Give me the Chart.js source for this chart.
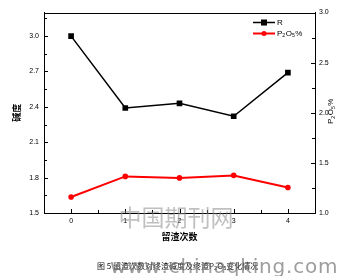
<!DOCTYPE html>
<html>
<head>
<meta charset="utf-8">
<script src="https://cdn.jsdelivr.net/npm/chart.js@4.4.1/dist/chart.umd.min.js"></script>
<style>
html, body { margin: 0; padding: 0; background: #fff; }
#wrap { width: 341px; height: 276px; }
</style>
</head>
<body>
<div id="wrap"><canvas id="myChart" width="341" height="276"></canvas></div>
<script>
// values
const cycles = [0, 1, 2, 3, 4];
const basicity = [3.0, 2.39, 2.43, 2.32, 2.69];
const p2o5 = [1.16, 1.365, 1.35, 1.375, 1.255];
const xTicks = [0, 1, 2, 3, 4];
const leftTicks = [1.5, 1.8, 2.1, 2.4, 2.7, 3.0];
const rightTicks = [1.0, 1.5, 2.0, 2.5, 3.0];

const FONT = '"Liberation Sans", Arial, sans-serif';
const CJK = '"Noto Sans CJK SC", sans-serif';

function toPoints(ys) {
    return cycles.map((c, i) => ({ x: c, y: ys[i] }));
}

// P2O5% with subscripts, starting at (x, y), left aligned, baseline middle
function drawP2O5(ctx, x, y, size) {
    const sub = size * 0.65;
    const parts = [['P', 0], ['2', 1], ['O', 0], ['5', 1], ['%', 0]];
    parts.forEach(p => {
        ctx.font = (p[1] ? sub : size) + 'px ' + FONT;
        ctx.fillText(p[0], x, y + (p[1] ? size * 0.3 : 0));
        x += ctx.measureText(p[0]).width + (p[1] ? 0.5 : 0);
    });
    return x;
}

// inward ticks, top border, legend, right title, caption, watermark
const decorPlugin = {
    id: 'decor',
    afterDraw(chart) {
        const ctx = chart.ctx;
        const a = chart.chartArea;
        const sx = chart.scales.x, sy = chart.scales.y, sy2 = chart.scales.y2;
        ctx.save();
        ctx.strokeStyle = '#000';
        ctx.lineWidth = 1;
        ctx.beginPath();
        ctx.moveTo(a.left, Math.round(a.top) + 0.5);
        ctx.lineTo(a.right, Math.round(a.top) + 0.5);
        // left axis
        for (let v = 1.5; v <= 3.2 + 1e-6; v += 0.15) {
            const y = Math.round(sy.getPixelForValue(v)) + 0.5;
            const major = leftTicks.some(t => Math.abs(t - v) < 1e-6);
            ctx.moveTo(a.left, y);
            ctx.lineTo(a.left + (major ? 4 : 3), y);
        }
        // right axis
        for (let v = 1.0; v <= 3.0 + 1e-6; v += 0.25) {
            const y = Math.round(sy2.getPixelForValue(v)) + 0.5;
            const major = rightTicks.some(t => Math.abs(t - v) < 1e-6);
            ctx.moveTo(a.right, y);
            ctx.lineTo(a.right - (major ? 4 : 3), y);
        }
        // bottom axis
        for (let v = -0.5; v <= 4.5 + 1e-6; v += 0.5) {
            const x = Math.round(sx.getPixelForValue(v)) + 0.5;
            const major = xTicks.some(t => Math.abs(t - v) < 1e-6);
            ctx.moveTo(x, a.bottom);
            ctx.lineTo(x, a.bottom - (major ? 4 : 3));
        }
        ctx.stroke();

        // legend
        const rows = [
            { ds: chart.data.datasets[0], y: 22.5 },
            { ds: chart.data.datasets[1], y: 33.5 }
        ];
        rows.forEach(r => {
            ctx.strokeStyle = r.ds.borderColor;
            ctx.lineWidth = r.ds.borderWidth;
            ctx.beginPath();
            ctx.moveTo(253, r.y);
            ctx.lineTo(275, r.y);
            ctx.stroke();
            ctx.fillStyle = r.ds.borderColor;
            if (r.ds.pointStyle === 'rect') {
                ctx.fillRect(261, r.y - 3, 6, 6);
            } else {
                ctx.beginPath();
                ctx.arc(264, r.y, 2.5, 0, Math.PI * 2);
                ctx.fill();
            }
        });
        ctx.fillStyle = '#000';
        ctx.textBaseline = 'middle';
        ctx.textAlign = 'left';
        ctx.font = '8px ' + FONT;
        ctx.fillText('R', 277, 22.5);
        drawP2O5(ctx, 277, 33.5, 8);

        // right axis title, reading bottom to top
        ctx.save();
        ctx.translate(331, 124);
        ctx.rotate(-Math.PI / 2);
        drawP2O5(ctx, 0, 0, 8);
        ctx.restore();

        // caption
        ctx.fillStyle = '#111';
        ctx.font = '8px ' + CJK;
        ctx.textAlign = 'left';
        ctx.fillText('图 5 留渣次数对终渣碱度及终渣P₂O₅变化情况', 97, 266);

        // watermark
        ctx.fillStyle = 'rgba(140,140,140,0.55)';
        ctx.textAlign = 'center';
        ctx.font = '23px ' + CJK;
        ctx.fillText('中国期刊网', 176, 217);
        ctx.textAlign = 'left';
        ctx.textBaseline = 'alphabetic';
        ctx.fillStyle = 'rgba(115,115,115,0.7)';
        ctx.font = '20px "DejaVu Sans", sans-serif';
        let wx = 110;
        for (const ch of 'www.chinaqking.com') {
            ctx.fillText(ch, wx, 273);
            wx += ctx.measureText(ch).width + 0.8;
        }
        ctx.restore();
    }
};

function renderChart() {
    const ctx = document.getElementById('myChart').getContext('2d');
    new Chart(ctx, {
        type: 'line',
        data: {
            datasets: [{
                label: 'R',
                data: toPoints(basicity),
                yAxisID: 'y',
                borderColor: '#000',
                backgroundColor: '#000',
                borderWidth: 1.5,
                pointStyle: 'rect',
                pointRadius: 4,
                pointBorderWidth: 0,
                fill: false
            }, {
                label: 'P2O5%',
                data: toPoints(p2o5),
                yAxisID: 'y2',
                borderColor: '#ff0000',
                backgroundColor: '#ff0000',
                borderWidth: 2,
                pointStyle: 'circle',
                pointRadius: 2.8,
                pointBorderWidth: 0,
                fill: false
            }]
        },
        options: {
            responsive: false,
            animation: false,
            devicePixelRatio: 1,
            layout: { padding: { left: 0, right: 0, top: 12.5, bottom: 0 } },
            plugins: {
                legend: { display: false },
                tooltip: { enabled: false }
            },
            scales: {
                x: {
                    type: 'linear',
                    position: 'bottom',
                    min: -0.5,
                    max: 4.5,
                    afterBuildTicks: s => { s.ticks = xTicks.map(v => ({ value: v })); },
                    afterFit: s => { s.height = 63; },
                    grid: { display: false, drawTicks: false },
                    border: { display: true, color: '#000', width: 1 },
                    ticks: { color: '#000', font: { size: 7, family: FONT }, padding: 4, callback: v => v },
                    title: {
                        display: true,
                        text: '留渣次数',
                        color: '#000',
                        font: { size: 9, weight: 'bold', family: CJK },
                        padding: { top: 34.5, bottom: 34.5 }
                    }
                },
                y: {
                    position: 'left',
                    min: 1.5,
                    max: 3.2,
                    afterBuildTicks: s => { s.ticks = leftTicks.map(v => ({ value: v })); },
                    afterFit: s => { s.width = 44; },
                    grid: { display: false, drawTicks: false },
                    border: { display: true, color: '#000', width: 1 },
                    ticks: { color: '#000', font: { size: 7, family: FONT }, padding: 5, callback: v => v.toFixed(1) },
                    title: {
                        display: true,
                        text: '碱度',
                        color: '#000',
                        font: { size: 9, weight: 'bold', family: CJK },
                        padding: { top: 11.5, bottom: 11.5 }
                    }
                },
                y2: {
                    position: 'right',
                    min: 1.0,
                    max: 3.0,
                    afterBuildTicks: s => { s.ticks = rightTicks.map(v => ({ value: v })); },
                    afterFit: s => { s.width = 26; },
                    grid: { display: false, drawTicks: false },
                    border: { display: true, color: '#000', width: 1 },
                    ticks: { color: '#000', font: { size: 7, family: FONT }, padding: 4, callback: v => v.toFixed(1) }
                }
            }
        },
        plugins: [decorPlugin]
    });
}

renderChart();
</script>
</body>
</html>
